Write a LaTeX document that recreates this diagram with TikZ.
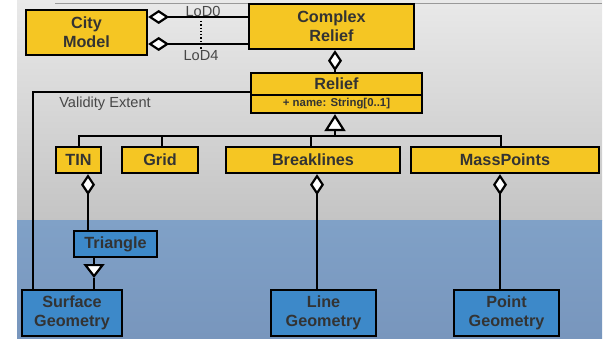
\documentclass[tikz,border=0pt]{standalone}
\usepackage{fontspec}
\setmainfont{Liberation Sans}
\usetikzlibrary{arrows.meta}
\definecolor{boxyellow}{HTML}{F5C623}
\definecolor{boxblue}{HTML}{3D89C9}
\definecolor{txt}{HTML}{333333}
\definecolor{bgtop}{HTML}{E9E9E9}
\definecolor{bgbot}{HTML}{C4C4C4}
\definecolor{seatop}{HTML}{80A1C7}
\definecolor{seabot}{HTML}{7896BD}
\begin{document}
\begin{tikzpicture}[x=1pt,y=-1pt,
  cls/.style={draw=black, line width=2.3pt, text=txt, align=center, inner sep=0pt,
    font=\bfseries\fontsize{16.2}{19}\selectfont},
  ybox/.style={cls, fill=boxyellow},
  bbox/.style={cls, fill=boxblue},
  conn/.style={draw=black, line width=2.2pt},
  agg/.style={conn, {Diamond[fill=white,length=21pt,width=14pt]}-},
  gen/.style={conn, -{Triangle[fill=white,length=#1,width=21pt]}},
  gen/.default=15pt,
  lbl/.style={text=txt!90!white, inner sep=0pt, font=\fontsize{14.6}{17}\selectfont}]
\useasboundingbox (0,0) rectangle (608,342);

% backdrop: application layer above, geometry layer below
\shade[top color=bgtop, bottom color=bgbot] (17,0) rectangle (602,220);
\shade[top color=seatop, bottom color=seabot] (17,220) rectangle (602,338);
\draw[line width=1.5pt, draw=black!40] (55,3.5) -- (602,3.5);

% classes
\node[ybox, minimum width=121pt, minimum height=45pt] (cm) at (86.5,32.5) {City\\Model};
\node[ybox, minimum width=165pt, minimum height=45pt] (cr) at (331.5,26.5) {Complex\\Relief};
\node[ybox, minimum width=171pt, minimum height=22pt] (relief) at (336.5,84) {Relief};
\node[ybox, minimum width=171pt, minimum height=18pt,
      font=\bfseries\fontsize{11.4}{13}\selectfont] (reliefattr) at (336.5,104) {+ name: String[0..1]};

\node[ybox, minimum width=45pt, minimum height=26pt] (tin) at (78.5,160) {TIN};
\node[ybox, minimum width=76pt, minimum height=26pt] (grid) at (160,160) {Grid};
\node[ybox, minimum width=174pt, minimum height=26pt] (bl) at (313,160) {Breaklines};
\node[ybox, minimum width=188pt, minimum height=26pt] (mp) at (505,160) {MassPoints};

\node[bbox, minimum width=83pt, minimum height=26pt] (tri) at (115.5,244) {Triangle};
\node[bbox, minimum width=100pt, minimum height=46pt] (sg) at (72,313) {Surface\\Geometry};
\node[bbox, minimum width=105pt, minimum height=46pt] (lg) at (323.5,313) {Line\\Geometry};
\node[bbox, minimum width=105pt, minimum height=46pt] (pg) at (506.5,313) {Point\\Geometry};

% CityModel -- ComplexRelief, one link per level of detail
\coordinate (lod0) at (201,17);
\coordinate (lod4) at (201,44);
\draw[agg] (cm.east |- lod0) -- (cr.west |- lod0);
\draw[agg] (cm.east |- lod4) -- (cr.west |- lod4);
\draw[line width=1.3pt, dotted] ([yshift=-4pt]lod0) -- ([yshift=-6pt]lod4);
\node[lbl] (lod0lbl) at (203,11) {LoD0};
\node[lbl] (lod4lbl) at (201,56) {LoD4};

% ComplexRelief aggregates Relief
\draw[agg] ([xshift=3.5pt]cr.south) -- ([xshift=3.5pt]cr.south |- relief.north);

% specialisations of Relief
\coordinate (bus) at (335,136);
\draw[conn] ([xshift=0.5pt]tin.north) |- (bus) -| ([xshift=-4pt]mp.north);
\draw[conn] ([xshift=2pt]grid.north) -- ([xshift=2pt]grid.north |- bus);
\draw[conn] ([xshift=-2pt]bl.north) -- ([xshift=-2pt]bl.north |- bus);
\draw[gen=17pt] (bus) -- (bus |- reliefattr.south);

% validity extent
\draw[conn] ([yshift=-8pt]relief.west) -| ([xshift=12pt]sg.north west);
\node[lbl] (validity) at (105,104) {Validity Extent};

% geometry links
\draw[agg] ([xshift=9.5pt]tin.south) -- ([xshift=9.5pt]tin.south |- tri.north);
\coordinate (gtip) at (94,278);
\draw[gen=14pt] (tri.south -| gtip) -- (gtip);
\draw[conn] (gtip) -- (sg.north -| gtip);
\draw[agg] ([xshift=4pt]bl.south) -- ([xshift=4pt]bl.south |- lg.north);
\draw[agg] ([xshift=-5pt]mp.south) -- ([xshift=-5pt]mp.south |- pg.north);
\end{tikzpicture}
\end{document}
